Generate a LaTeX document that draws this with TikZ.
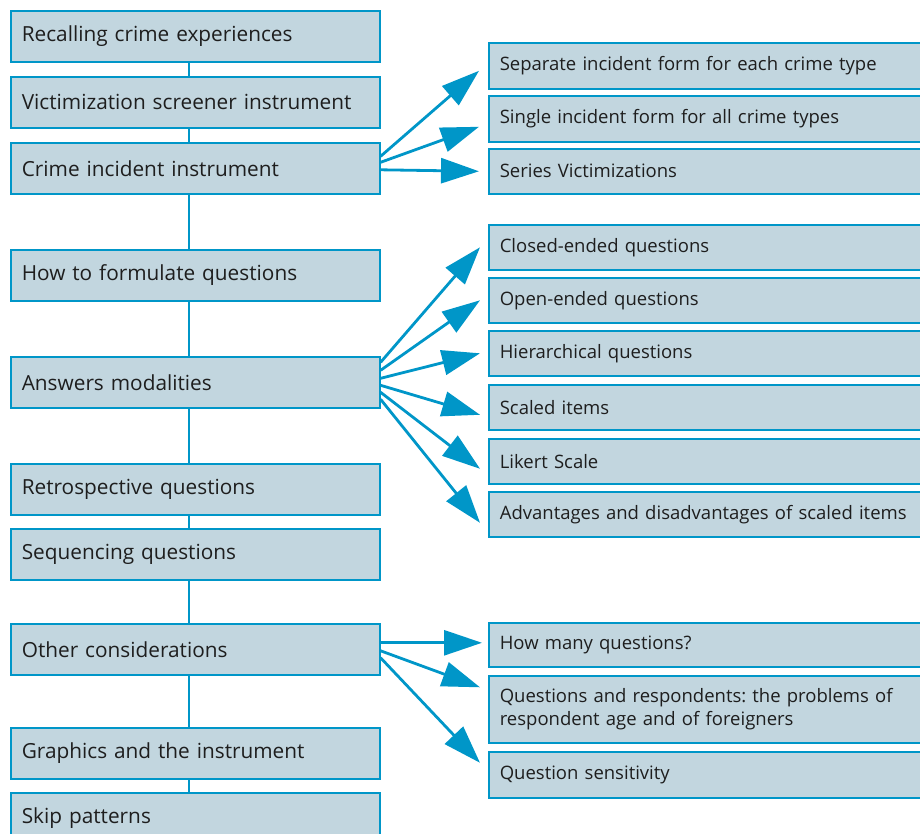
\documentclass[tikz,border=0pt]{standalone}
\usepackage{fontspec}
\setmainfont{Open Sans}
\frenchspacing
\usetikzlibrary{arrows.meta,positioning}
\definecolor{qblue}{RGB}{0,150,200}
\definecolor{qfill}{RGB}{194,214,223}
\definecolor{qtext}{RGB}{30,30,30}
\tikzset{
  lbox/.style={rectangle, draw=qblue, fill=qfill, line width=1.6pt,
               anchor=north west, minimum width=369pt, minimum height=51pt,
               text width=347pt, inner xsep=11pt, align=left,
               font=\fontsize{20.8}{24}\selectfont, text=qtext},
  rbox/.style={rectangle, draw=qblue, fill=qfill, line width=1.6pt,
               anchor=north west, minimum width=440pt, minimum height=#1,
               text width=418pt, inner xsep=11pt, align=left,
               font=\fontsize{18.5}{23}\selectfont, text=qtext},
  rbox/.default=45pt,
  vlink/.style={draw=qblue, line width=2.4pt},
  pil/.style={draw=qblue, line width=2.8pt,
              -{Triangle[length=38pt,width=25pt]}},
}

\begin{document}
\begin{tikzpicture}[x=1pt,y=-1pt]
  \useasboundingbox (0,0) rectangle (920,834);
  \clip (0,0) rectangle (920,834);
  % left column
  \node[lbox] (rec)   at (10,10)  {Recalling crime experiences};
  \node[lbox] (vic)   at (10,76)  {Victimization screener instrument};
  \node[lbox] (cii)   at (10,142) {Crime incident instrument};
  \node[lbox] (form)  at (10,249) {How to formulate questions};
  \node[lbox] (ans)   at (10,356) {Answers modalities};
  \node[lbox] (retro) at (10,463) {Retrospective questions};
  \node[lbox] (seq)   at (10,528) {Sequencing questions};
  \node[lbox] (other) at (10,623) {Other considerations};
  \node[lbox] (graph) at (10,727) {Graphics and the instrument};
  \node[lbox] (skip)  at (10,792) {Skip patterns};
  \foreach \a/\b in {rec/vic,vic/cii,cii/form,form/ans,ans/retro,retro/seq,seq/other,other/graph,graph/skip}
    \draw[vlink] ([xshift=-6.5pt]\a.south) -- ([xshift=-6.5pt]\b.north);
  % right column
  \node[rbox=46pt] (sep)    at (488,42)  {Separate incident form for each crime type};
  \node[rbox=46pt] (single) at (488,95)  {Single incident form for all crime types};
  \node[rbox]      (series) at (488,148) {Series Victimizations};
  \node[rbox]      (closed) at (488,224) {Closed-ended questions};
  \node[rbox]      (open)   at (488,277) {Open-ended questions};
  \node[rbox]      (hier)   at (488,330) {Hierarchical questions};
  \node[rbox]      (scaled) at (488,384) {Scaled items};
  \node[rbox]      (likert) at (488,438) {Likert Scale};
  \node[rbox]      (adv)    at (488,491) {Advantages and disadvantages of scaled items};
  \node[rbox=44pt] (howmany) at (488,622) {How many questions?};
  \node[rbox=67pt] (resp)   at (488,675) {Questions and respondents: the problems of\\respondent age and of foreigners};
  \node[rbox=46pt] (sens)   at (488,751) {Question sensitivity};
  % fans of arrows
  \draw[pil] ([yshift=12pt]cii.east)   -- ([xshift=-9pt,yshift=-5pt]sep.west);
  \draw[pil] ([yshift=6pt]cii.east)    -- ([xshift=-9pt,yshift=-8pt]single.west);
  \draw[pil] ([yshift=-1.5pt]cii.east) -- ([xshift=-9pt]series.west);
  \foreach \s/\t/\d in {20/closed/0, 12/open/0, 4/hier/0, -3/scaled/-7.5, -10/likert/-7.5, -17/adv/-8.5}
    \draw[pil] ([yshift=\s pt]ans.east) -- ([xshift=-8pt,yshift=\d pt]\t.west);
  \draw[pil] ([yshift=6.5pt]other.east) -- ([xshift=-6pt,yshift=2pt]howmany.west);
  \draw[pil] ([yshift=-1.5pt]other.east) -- ([xshift=-8pt,yshift=22pt]resp.west);
  \draw[pil] ([yshift=-8.5pt]other.east) -- ([xshift=-8pt,yshift=12pt]sens.west);
\end{tikzpicture}
\end{document}
